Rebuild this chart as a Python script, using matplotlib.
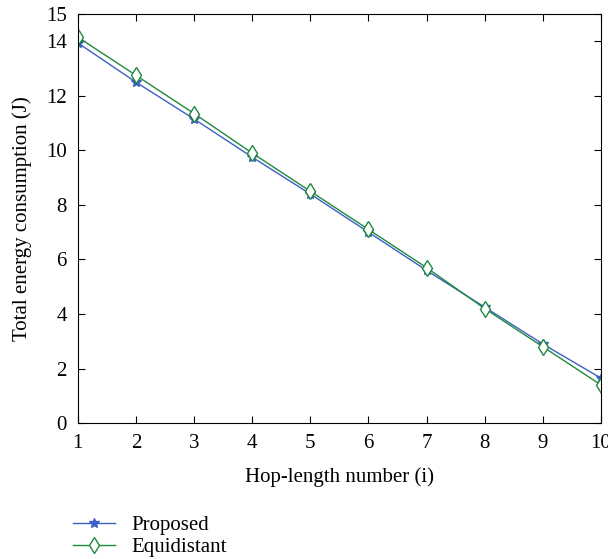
import numpy as np
import matplotlib
matplotlib.use('Agg')
import matplotlib.pyplot as plt

plt.rcParams['font.family'] = ['Liberation Serif', 'DejaVu Serif']

hops = [1, 2, 3, 4, 5, 6, 7, 8, 9, 10]
proposed = [13.94, 12.5, 11.15, 9.75, 8.4, 7.0, 5.6, 4.25, 2.9, 1.65]
equidistant = [14.15, 12.75, 11.35, 9.9, 8.5, 7.1, 5.7, 4.2, 2.8, 1.4]

fig = plt.figure(figsize=(6.08, 5.59), dpi=100)
ax = fig.add_axes([0.128, 0.243, 0.8605, 0.732])

ax.plot(hops, proposed, color='#3b5fc4', marker='*', markersize=7, lw=1.0, label='Proposed')
ax.plot(hops, equidistant, color='#1e8a3c', marker='d', markersize=8, mfc='white',
        mew=1.0, lw=1.0, label='Equidistant')

ax.set_xlim(1, 10)
ax.set_ylim(0, 15)
ax.set_xticks(hops)
ax.set_yticks([0, 2, 4, 6, 8, 10, 12, 14, 15])
ax.tick_params(direction='in', top=True, right=True, labelsize=15, length=5)
ax.tick_params(axis='x', pad=8)
ax.tick_params(axis='y', pad=8)
ax.set_xlabel('Hop-length number (i)', fontsize=15, labelpad=10)
ax.set_ylabel('Total energy consumption (J)', fontsize=15, labelpad=10)

ax.legend(loc='upper left', bbox_to_anchor=(-0.045, -0.18), frameon=False,
          fontsize=15, handlelength=2.0, labelspacing=0.1)

fig.savefig('out.png', dpi=100)
